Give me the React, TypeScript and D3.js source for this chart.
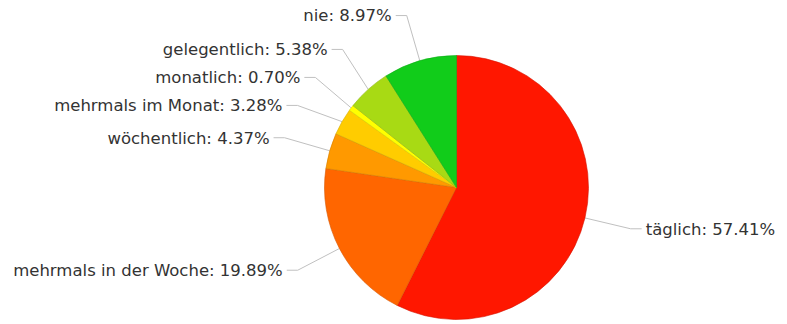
import React, { useEffect, useRef } from "react";
import * as d3 from "d3";

const categories = [
  "täglich",
  "mehrmals in der Woche",
  "wöchentlich",
  "mehrmals im Monat",
  "monatlich",
  "gelegentlich",
  "nie",
];
const values = [57.41, 19.89, 4.37, 3.28, 0.7, 5.38, 8.97];
const colors = ["#FF1700", "#FF6600", "#FF9900", "#FFCC00", "#FFFF00", "#A8DA14", "#11CC1A"];

const W = 787;
const H = 324;
const CX = 456.5;
const CY = 187.5;
const R = 132;
const LABEL_R = 179;
const SPACING = 28;

export default function App() {
  const ref = useRef<SVGSVGElement>(null);

  useEffect(() => {
    const svg = d3.select(ref.current);
    svg.selectAll("*").remove();

    const data = categories.map((c, i) => ({ name: c, value: values[i], color: colors[i] }));
    const pie = d3.pie<any>().sort(null).value((d) => d.value);
    const arcs = pie(data);
    const arc = d3.arc<any>().innerRadius(0).outerRadius(R);

    const g = svg.append("g").attr("transform", `translate(${CX},${CY})`);

    const labels = arcs.map((a) => {
      const mid = (a.startAngle + a.endAngle) / 2;
      const left = Math.sin(mid) < 0;
      return {
        a,
        mid,
        left,
        ty: -Math.cos(mid) * LABEL_R,
        y: 0,
        text: `${a.data.name}: ${a.data.value.toFixed(2)}%`,
      };
    });

    const distribute = (items: any[]) => {
      items.sort((p, q) => p.ty - q.ty);
      const groups: any[] = items.map((it) => ({ items: [it] }));
      const place = (gr: any) => {
        const n = gr.items.length;
        const mean = gr.items.reduce((s: number, it: any) => s + it.ty, 0) / n;
        gr.start = mean - ((n - 1) * SPACING) / 2;
      };
      groups.forEach(place);
      let changed = true;
      while (changed) {
        changed = false;
        for (let i = 0; i < groups.length - 1; i++) {
          const a = groups[i];
          const b = groups[i + 1];
          const aEnd = a.start + (a.items.length - 1) * SPACING;
          if (b.start - aEnd < SPACING) {
            const merged: any = { items: a.items.concat(b.items) };
            place(merged);
            groups.splice(i, 2, merged);
            changed = true;
            break;
          }
        }
      }
      groups.forEach((gr: any) => gr.items.forEach((it: any, k: number) => (it.y = gr.start + k * SPACING)));
    };
    distribute(labels.filter((l) => l.left));
    distribute(labels.filter((l) => !l.left));

    labels.forEach((l: any) => {
      const dy = Math.min(Math.abs(l.y), LABEL_R - 1);
      const cornerX = (l.left ? -1 : 1) * Math.sqrt(LABEL_R * LABEL_R - dy * dy);
      const startX = cornerX + (l.left ? -11 : 11);
      const ex = Math.sin(l.mid) * R;
      const ey = -Math.cos(l.mid) * R;
      g.append("path")
        .attr("d", `M${startX},${l.y} L${cornerX},${l.y} L${ex},${ey}`)
        .attr("fill", "none")
        .attr("stroke", "#c0c0c0")
        .attr("stroke-width", 1);
      l.textX = cornerX + (l.left ? -15 : 15);
    });

    g.selectAll("path.slice")
      .data(arcs)
      .enter()
      .append("path")
      .attr("class", "slice")
      .attr("d", arc as any)
      .attr("fill", (d: any) => d.data.color)
      .attr("stroke", (d: any) => d3.color(d.data.color)!.darker(0.5).formatHex())
      .attr("stroke-width", 0.6)
      .attr("stroke-linejoin", "round");

    labels.forEach((l: any) => {
      g.append("text")
        .attr("x", l.textX)
        .attr("y", l.y)
        .attr("dy", "0.35em")
        .attr("text-anchor", l.left ? "end" : "start")
        .attr("font-family", "'DejaVu Sans', Verdana, sans-serif")
        .attr("font-size", 16.5)
        .attr("fill", "#333333")
        .text(l.text);
    });
  }, []);

  return (
    <div style={{ position: "absolute", left: 0, top: 0 }}>
      <svg ref={ref} width={W} height={H} style={{ display: "block", background: "#fff" }} />
    </div>
  );
}
